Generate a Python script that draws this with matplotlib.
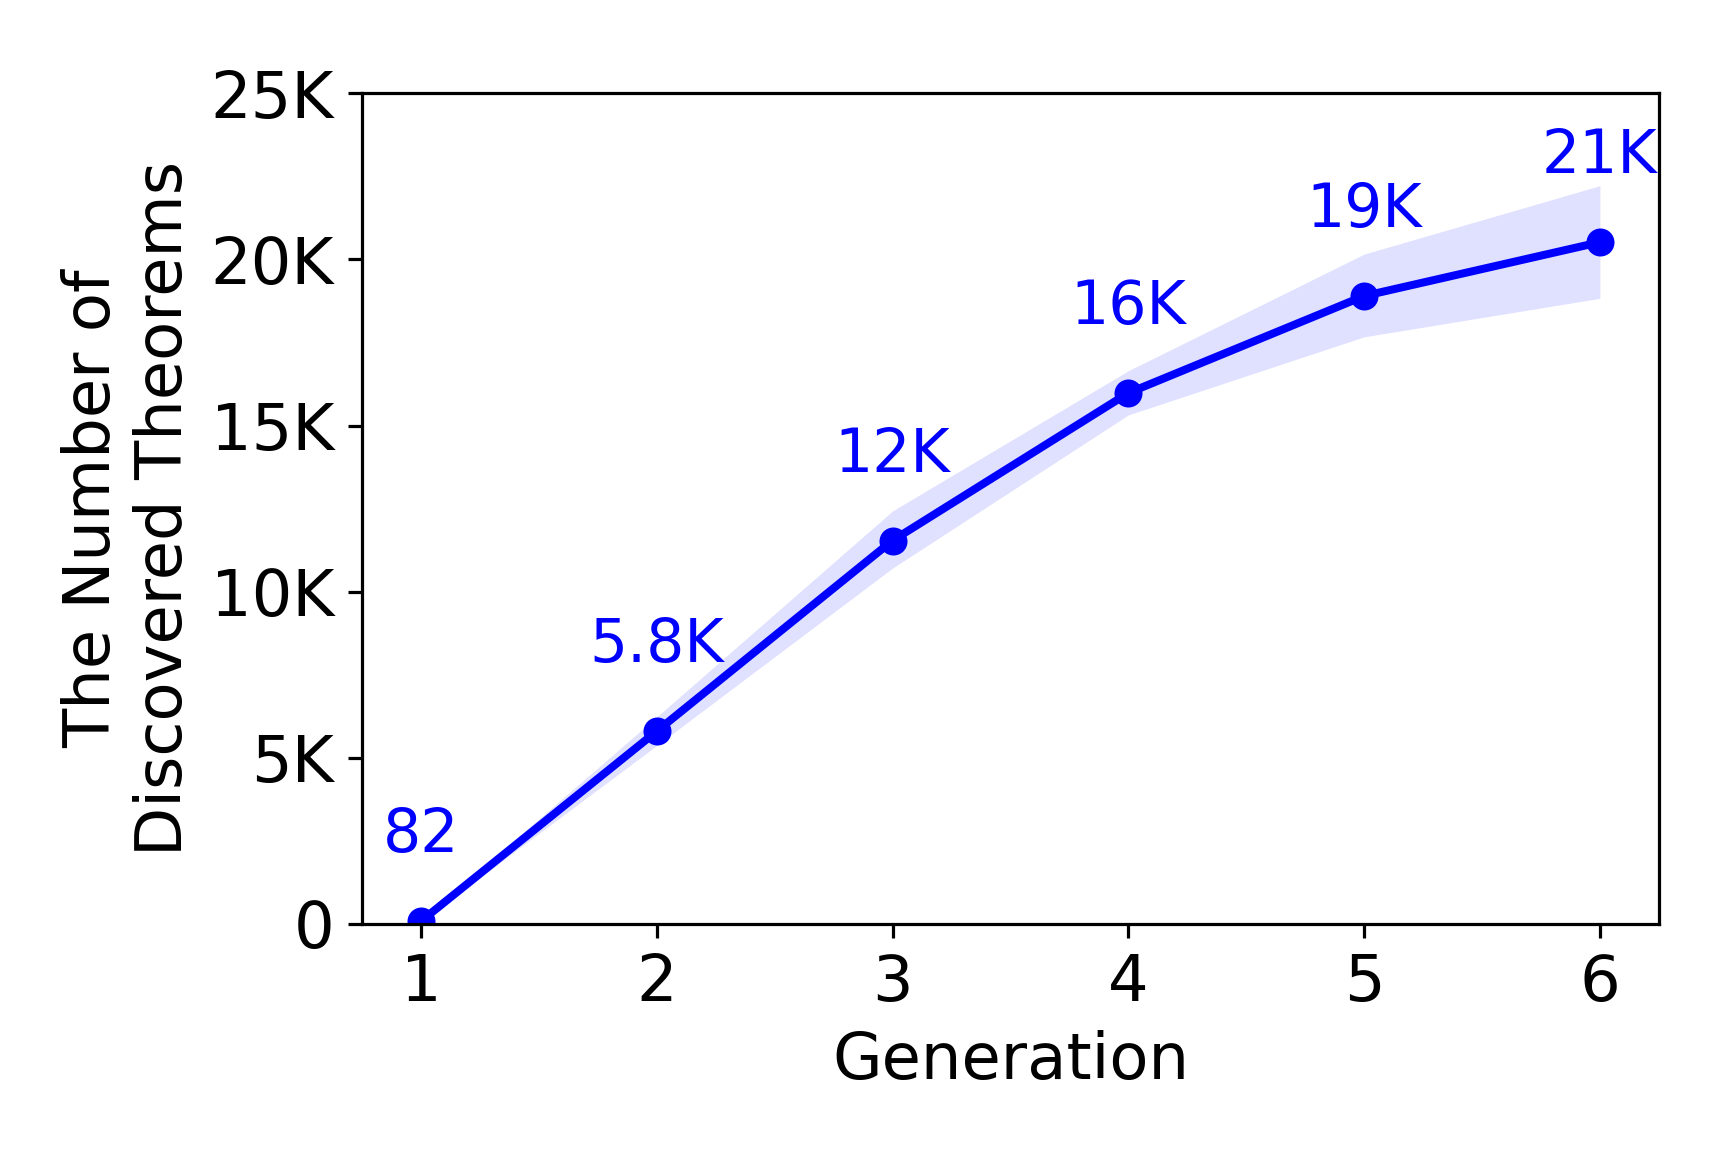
import numpy as np
import matplotlib
matplotlib.use("Agg")
import matplotlib.pyplot as plt
from matplotlib.ticker import FuncFormatter

# dane
generacje = [1, 2, 3, 4, 5, 6]
srednia = [82, 5800, 11540, 15980, 18900, 20520]
gorna = [90, 6230, 12430, 16650, 20160, 22220]
dolna = [74, 5370, 10710, 15320, 17670, 18830]
etykiety = ["82", "5.8K", "12K", "16K", "19K", "21K"]
y_ticks = [0, 5000, 10000, 15000, 20000, 25000]

plt.rcParams['font.family'] = 'DejaVu Sans'
plt.rcParams['font.size'] = 16

fig = plt.figure(figsize=(6, 4), dpi=288)
ax = fig.add_axes([0.2095, 0.198, 0.7505, 0.721])

ax.fill_between(generacje, dolna, gorna, color='blue', alpha=0.12, linewidth=0)
ax.plot(generacje, srednia, color='blue', linewidth=2, marker='o', markersize=6)

for x, y, t in zip(generacje, srednia, etykiety):
    ax.annotate(t, (x, y), xytext=(0, 14), textcoords='offset points',
                ha='center', va='bottom', color='blue', fontsize=15)

def fmt_k(v, pos):
    return "0" if v == 0 else f"{int(v / 1000)}K"

ax.set_yticks(y_ticks)
ax.yaxis.set_major_formatter(FuncFormatter(fmt_k))
ax.set_ylim(0, 25000)
ax.set_xticks(generacje)
ax.set_xlim(0.75, 6.25)
ax.set_xlabel("Generation")
ax.set_ylabel("The Number of\nDiscovered Theorems")

fig.savefig("out.png", dpi=288)
